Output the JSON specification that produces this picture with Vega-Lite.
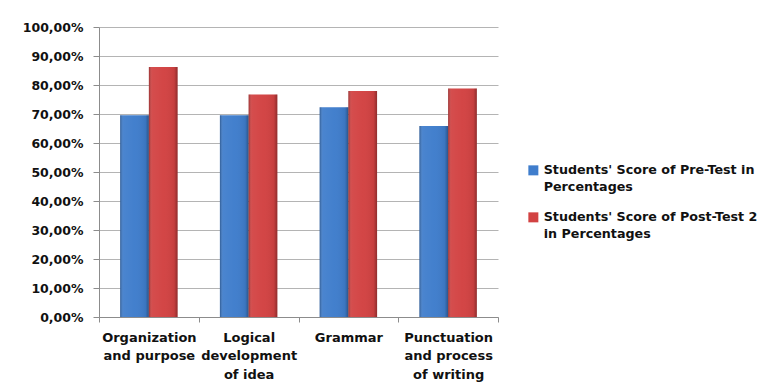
{
  "$schema": "https://vega.github.io/schema/vega-lite/v6.json",
  "width": 399,
  "height": 290,
  "autosize": {"type": "none"},
  "padding": {"left": 99, "top": 27, "right": 266, "bottom": 70},
  "background": "white",
  "data": {
    "values": [
      {"aspect": "Organization and purpose", "series": "Students' Score of Pre-Test in Percentages", "score": 0.696},
      {"aspect": "Organization and purpose", "series": "Students' Score of Post-Test 2 in Percentages", "score": 0.862},
      {"aspect": "Logical development of idea", "series": "Students' Score of Pre-Test in Percentages", "score": 0.696},
      {"aspect": "Logical development of idea", "series": "Students' Score of Post-Test 2 in Percentages", "score": 0.767},
      {"aspect": "Grammar", "series": "Students' Score of Pre-Test in Percentages", "score": 0.723},
      {"aspect": "Grammar", "series": "Students' Score of Post-Test 2 in Percentages", "score": 0.779},
      {"aspect": "Punctuation and process of writing", "series": "Students' Score of Pre-Test in Percentages", "score": 0.659},
      {"aspect": "Punctuation and process of writing", "series": "Students' Score of Post-Test 2 in Percentages", "score": 0.788}
    ]
  },
  "encoding": {
    "x": {
      "field": "aspect",
      "type": "nominal",
      "sort": null,
      "scale": {"paddingInner": 0, "paddingOuter": 0},
      "axis": {
        "title": null,
        "labelAngle": 0,
        "tickBand": "extent",
        "tickSize": 5,
        "tickColor": "#8c8c8c",
        "domainColor": "#8c8c8c",
        "labelPadding": 9,
        "labelBaseline": "top",
        "labelFontSize": 13,
        "labelLineHeight": 18.5,
        "labelLimit": 200,
        "labelExpr": "datum.value == 'Organization and purpose' ? ['Organization', 'and purpose'] : datum.value == 'Logical development of idea' ? ['Logical', 'development', 'of idea'] : datum.value == 'Punctuation and process of writing' ? ['Punctuation', 'and process', 'of writing'] : datum.label"
      }
    },
    "xOffset": {
      "field": "series",
      "type": "nominal",
      "sort": null,
      "scale": {"paddingInner": 0, "paddingOuter": 0.737}
    },
    "y": {
      "field": "score",
      "type": "quantitative",
      "scale": {"domain": [0, 1], "nice": false},
      "axis": {
        "title": null,
        "values": [0, 0.1, 0.2, 0.3, 0.4, 0.5, 0.6, 0.7, 0.8, 0.9, 1],
        "format": ".2%",
        "grid": true,
        "gridColor": "#b4b4b4",
        "tickSize": 6,
        "tickColor": "#8c8c8c",
        "domainColor": "#8c8c8c",
        "labelPadding": 10,
        "labelFontSize": 12.5
      }
    }
  },
  "layer": [
    {
      "mark": {"type": "bar"},
      "encoding": {
        "color": {
          "field": "series",
          "type": "nominal",
          "sort": null,
          "scale": {"range": ["#3f7dcc", "#d24242"]},
          "legend": {
            "title": null,
            "orient": "none",
            "legendX": 428,
            "legendY": 137,
            "padding": 0,
            "symbolType": "square",
            "symbolSize": 100,
            "symbolStrokeWidth": 0,
            "labelFontSize": 12.7,
            "labelLimit": 300,
            "labelOffset": 4,
            "rowPadding": 16,
            "labelExpr": "datum.value == \"Students' Score of Pre-Test in Percentages\" ? [\"Students' Score of Pre-Test in\", 'Percentages'] : [\"Students' Score of Post-Test 2\", 'in Percentages']"
          }
        }
      }
    },
    {
      "mark": {
        "type": "bar",
        "fill": {
          "gradient": "linear",
          "x1": 0, "y1": 0, "x2": 1, "y2": 0,
          "stops": [
            {"offset": 0, "color": "rgba(0,0,0,0.28)"},
            {"offset": 0.12, "color": "rgba(255,255,255,0.06)"},
            {"offset": 0.5, "color": "rgba(255,255,255,0.02)"},
            {"offset": 0.88, "color": "rgba(0,0,0,0.06)"},
            {"offset": 1, "color": "rgba(0,0,0,0.32)"}
          ]
        }
      }
    }
  ],
  "config": {
    "locale": {"number": {"decimal": ",", "thousands": ".", "grouping": [3], "currency": ["", " €"]}},
    "font": "DejaVu Sans",
    "view": {"stroke": null},
    "style": {"guide-label": {"lineHeight": 17}},
    "axis": {
      "labelFont": "DejaVu Sans",
      "labelFontWeight": "bold",
      "labelColor": "#111111",
      "domainWidth": 1,
      "gridWidth": 1
    },
    "legend": {
      "labelFont": "DejaVu Sans",
      "labelFontWeight": "bold",
      "labelColor": "#111111"
    }
  }
}
